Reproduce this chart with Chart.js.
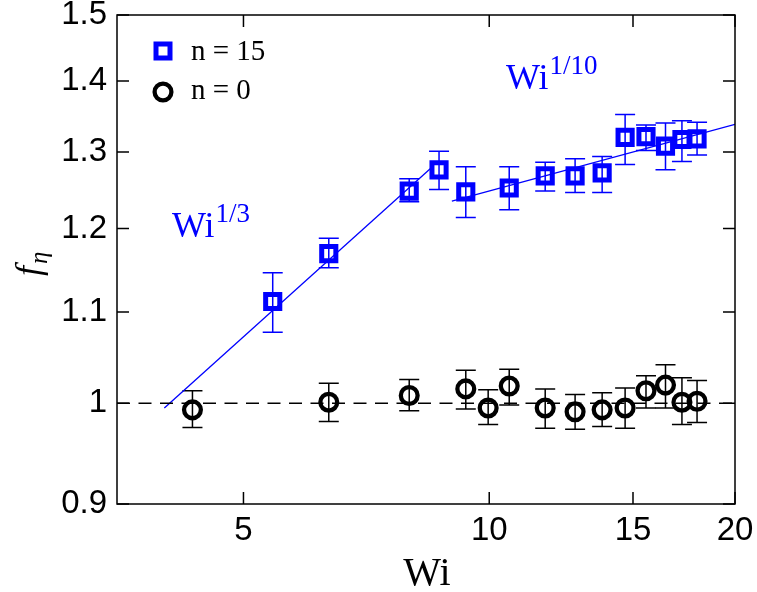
<!DOCTYPE html>
<html>
<head>
<meta charset="utf-8">
<script src="https://cdn.jsdelivr.net/npm/chart.js@4/dist/chart.umd.min.js"></script>
<style>
  html, body { margin: 0; padding: 0; background: #ffffff; }
  #wrap { width: 757px; height: 592px; }
</style>
</head>
<body>
<div id="wrap"><canvas id="c" width="757" height="592"></canvas></div>
<script>
// Viscosity enhancement factor f_eta versus Weissenberg number (log-log)
const wiN15  = [5.43, 6.36, 7.98, 8.68, 9.36, 10.58, 11.71, 12.74, 13.75, 14.67, 15.56, 16.44, 17.22, 17.97];
const fN15   = [1.112, 1.169, 1.248, 1.276, 1.247, 1.252, 1.268, 1.268, 1.272, 1.320, 1.321, 1.308, 1.317, 1.318];
const fN15Lo = [1.077, 1.152, 1.234, 1.250, 1.214, 1.224, 1.248, 1.246, 1.246, 1.283, 1.302, 1.276, 1.287, 1.296];
const fN15Hi = [1.146, 1.188, 1.264, 1.301, 1.280, 1.280, 1.286, 1.291, 1.294, 1.352, 1.337, 1.340, 1.343, 1.341];

const wiN0  = [4.33, 6.36, 7.98, 9.36, 9.97, 10.58, 11.71, 12.74, 13.75, 14.67, 15.56, 16.44, 17.22, 17.97];
const fN0   = [0.993, 1.001, 1.008, 1.015, 0.995, 1.018, 0.995, 0.991, 0.993, 0.995, 1.013, 1.019, 1.001, 1.002];
const fN0Lo = [0.975, 0.981, 0.992, 0.994, 0.978, 0.998, 0.974, 0.973, 0.976, 0.974, 0.995, 0.995, 0.978, 0.980];
const fN0Hi = [1.013, 1.021, 1.025, 1.035, 1.014, 1.036, 1.015, 1.009, 1.011, 1.016, 1.029, 1.041, 1.027, 1.024];

// power-law guides: Wi^(1/3) at low Wi, Wi^(1/10) at high Wi
const fitLowWi  = [4.0, 8.5];
const fitLowF   = [0.995, 1.279];
const fitHighWi = [9.0, 20];
const fitHighF  = [1.235, 1.338];

// reference level f = 1
const unityWi = [3.5, 20];
const unityF  = [1, 1];

const xTickValues = [5, 10, 15, 20];
const xTickLabels = ['5', '10', '15', '20'];
const yTickValues = [0.9, 1.0, 1.1, 1.2, 1.3, 1.4, 1.5];
const yTickLabels = ['0.9', '1', '1.1', '1.2', '1.3', '1.4', '1.5'];

const BLUE = '#0000ff';
const BLACK = '#000000';

const pts = (xs, ys) => xs.map((x, i) => ({ x: x, y: ys[i] }));

const errorBars = [
  { xs: wiN15, lo: fN15Lo, hi: fN15Hi, color: BLUE },
  { xs: wiN0,  lo: fN0Lo,  hi: fN0Hi,  color: BLACK }
];

// error bars under the markers
const errorBarPlugin = {
  id: 'errorBars',
  beforeDatasetsDraw(chart) {
    const ctx = chart.ctx, xs = chart.scales.x, ys = chart.scales.y;
    ctx.save();
    ctx.lineWidth = 1.5;
    errorBars.forEach(set => {
      ctx.strokeStyle = set.color;
      set.xs.forEach((w, i) => {
        const px = xs.getPixelForValue(w);
        const pLo = ys.getPixelForValue(set.lo[i]);
        const pHi = ys.getPixelForValue(set.hi[i]);
        const cap = 10;
        ctx.beginPath();
        ctx.moveTo(px, pLo); ctx.lineTo(px, pHi);
        ctx.moveTo(px - cap, pLo); ctx.lineTo(px + cap, pLo);
        ctx.moveTo(px - cap, pHi); ctx.lineTo(px + cap, pHi);
        ctx.stroke();
      });
    });
    ctx.restore();
  }
};

// box frame with inward ticks, annotations, legend and axis titles
const framePlugin = {
  id: 'frame',
  afterDraw(chart) {
    const ctx = chart.ctx, a = chart.chartArea;
    const xs = chart.scales.x, ys = chart.scales.y;
    ctx.save();
    ctx.strokeStyle = BLACK;
    ctx.lineWidth = 1.5;
    ctx.strokeRect(a.left, a.top, a.right - a.left, a.bottom - a.top);
    const tl = 12;
    ctx.beginPath();
    xTickValues.forEach(v => {
      const px = xs.getPixelForValue(v);
      ctx.moveTo(px, a.bottom); ctx.lineTo(px, a.bottom - tl);
      ctx.moveTo(px, a.top); ctx.lineTo(px, a.top + tl);
    });
    yTickValues.forEach(v => {
      const py = ys.getPixelForValue(v);
      ctx.moveTo(a.left, py); ctx.lineTo(a.left + tl, py);
      ctx.moveTo(a.right, py); ctx.lineTo(a.right - tl, py);
    });
    ctx.stroke();

    // power-law annotations
    const sup = (base, exp, x, y, size, supSize, color) => {
      ctx.fillStyle = color;
      ctx.textBaseline = 'alphabetic';
      ctx.textAlign = 'left';
      ctx.font = size + 'px "Liberation Serif"';
      ctx.fillText(base, x, y);
      const w = ctx.measureText(base).width;
      ctx.font = supSize + 'px "Liberation Serif"';
      ctx.fillText(exp, x + w + 1, y - size * 0.43);
    };
    sup('Wi', '1/3', 172, 237, 36, 27, BLUE);
    sup('Wi', '1/10', 506, 89, 36, 27, BLUE);

    // legend
    ctx.lineWidth = 5;
    ctx.strokeStyle = BLUE;
    ctx.strokeRect(163 - 7, 51 - 7, 14, 14);
    ctx.strokeStyle = BLACK;
    ctx.lineWidth = 4.3;
    ctx.beginPath();
    ctx.arc(163, 92, 8.4, 0, Math.PI * 2);
    ctx.stroke();
    ctx.fillStyle = BLACK;
    ctx.font = '29px "Liberation Serif"';
    ctx.textAlign = 'left';
    ctx.textBaseline = 'alphabetic';
    ctx.fillText('n = 15', 191, 60);
    ctx.fillText('n = 0', 191, 99);

    // x title
    ctx.font = '40px "Liberation Serif"';
    ctx.textAlign = 'center';
    ctx.fillText('Wi', 427, 585);

    // y title: f with subscript eta
    ctx.translate(40, 262);
    ctx.rotate(-Math.PI / 2);
    ctx.textAlign = 'left';
    ctx.font = 'italic 36px "Liberation Serif"';
    const fw = ctx.measureText('f').width;
    ctx.fillText('f', -14, 0);
    ctx.font = 'italic 25px "Liberation Serif"';
    ctx.fillText('\u03B7', -14 + fw + 2, 7);
    ctx.restore();
  }
};

new Chart(document.getElementById('c'), {
  type: 'scatter',
  data: {
    datasets: [
      { label: 'unity', data: pts(unityWi, unityF), showLine: true, borderColor: BLACK,
        borderWidth: 1.5, borderDash: [13, 8.5], pointRadius: 0, fill: false },
      { label: 'Wi^1/3', data: pts(fitLowWi, fitLowF), showLine: true, borderColor: BLUE,
        borderWidth: 1.3, pointRadius: 0, fill: false },
      { label: 'Wi^1/10', data: pts(fitHighWi, fitHighF), showLine: true, borderColor: BLUE,
        borderWidth: 1.3, pointRadius: 0, fill: false },
      { label: 'n=15', data: pts(wiN15, fN15), showLine: false, pointStyle: 'rect',
        pointRadius: 10, pointBorderWidth: 5, borderColor: BLUE, pointBorderColor: BLUE,
        pointBackgroundColor: 'rgba(0,0,0,0)' },
      { label: 'n=0', data: pts(wiN0, fN0), showLine: false, pointStyle: 'circle',
        pointRadius: 8.4, pointBorderWidth: 4.3, borderColor: BLACK, pointBorderColor: BLACK,
        pointBackgroundColor: 'rgba(0,0,0,0)' }
    ]
  },
  options: {
    responsive: false,
    animation: false,
    devicePixelRatio: 1,
    layout: { padding: { top: 14, right: 22, left: 0, bottom: 0 } },
    plugins: { legend: { display: false }, tooltip: { enabled: false } },
    scales: {
      x: {
        type: 'logarithmic', min: 3.5, max: 20,
        grid: { display: false, drawTicks: false },
        border: { display: false },
        afterBuildTicks: s => { s.ticks = xTickValues.map(v => ({ value: v })); },
        afterFit: s => { s.height = 88; s.paddingLeft = 0; s.paddingRight = 0; },
        ticks: {
          autoSkip: false, maxRotation: 0, padding: 10, color: BLACK,
          font: { family: '"Liberation Sans"', size: 33, lineHeight: 1 },
          callback: v => { const i = xTickValues.indexOf(v); return i >= 0 ? xTickLabels[i] : ''; }
        }
      },
      y: {
        type: 'logarithmic', min: 0.9, max: 1.5,
        grid: { display: false, drawTicks: false },
        border: { display: false },
        afterBuildTicks: s => { s.ticks = yTickValues.map(v => ({ value: v })); },
        afterFit: s => { s.width = 117; s.paddingTop = 0; s.paddingBottom = 0; },
        ticks: {
          autoSkip: false, padding: 10, color: BLACK,
          font: { family: '"Liberation Sans"', size: 33, lineHeight: 1 },
          callback: v => {
            const i = yTickValues.findIndex(t => Math.abs(t - v) < 1e-9);
            return i >= 0 ? yTickLabels[i] : '';
          }
        }
      }
    }
  },
  plugins: [errorBarPlugin, framePlugin]
});
</script>
</body>
</html>
